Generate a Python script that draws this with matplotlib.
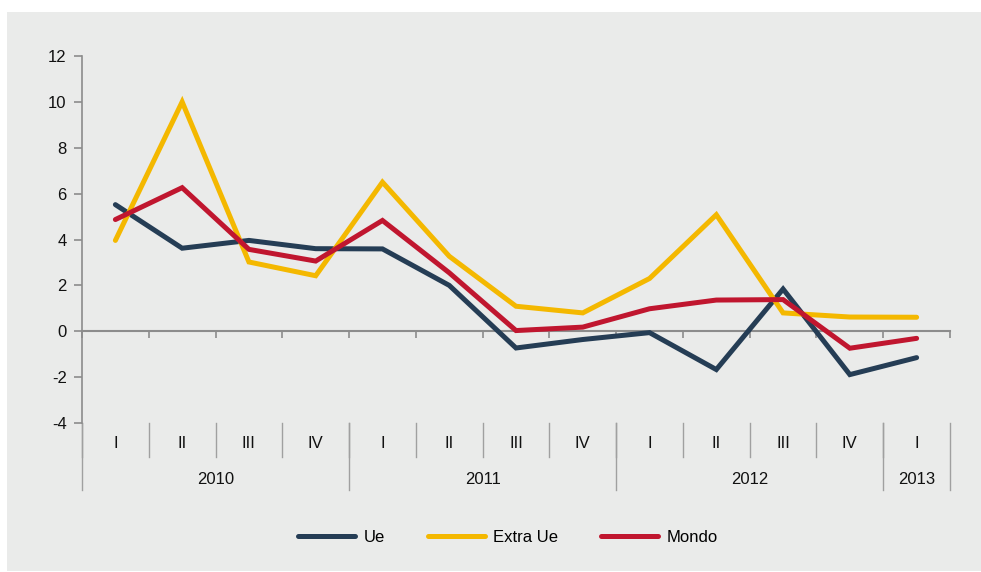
import matplotlib.pyplot as plt
import matplotlib.transforms as mtransforms
from matplotlib.patches import Rectangle
import numpy as np

plt.rcParams["font.family"] = ["Liberation Sans", "DejaVu Sans"]
plt.rcParams["axes.unicode_minus"] = False

quarters = ["I", "II", "III", "IV", "I", "II", "III", "IV", "I", "II", "III", "IV", "I"]
years = ["2010", "2011", "2012", "2013"]
year_len = [4, 4, 4, 1]

ue = [5.52, 3.62, 3.96, 3.6, 3.59, 2.0, -0.73, -0.36, -0.06, -1.67, 1.84, -1.89, -1.15]
extra_ue = [3.96, 10.0, 3.02, 2.42, 6.5, 3.27, 1.09, 0.8, 2.3, 5.08, 0.8, 0.62, 0.61]
mondo = [4.87, 6.26, 3.57, 3.06, 4.83, 2.55, 0.03, 0.18, 0.98, 1.36, 1.38, -0.74, -0.31]

NAVY = "#253d55"
YELLOW = "#f4b800"
RED = "#c0162f"
GREY = "#8c8c8c"
BG = "#eaebea"


def main():
    W, H = 981, 572
    fig = plt.figure(figsize=(W / 100, H / 100), dpi=100)
    fig.patch.set_facecolor("white")
    # grey panel behind the chart
    fig.patches.append(Rectangle((7 / W, 1 / H), 1 - 7 / W, (571 - 12) / H,
                                 transform=fig.transFigure, facecolor=BG,
                                 edgecolor="none", zorder=-5))

    ax = fig.add_axes([82 / W, 1 - 423 / H, (950 - 82) / W, (423 - 56) / H])
    ax.set_facecolor("none")

    x = np.arange(len(quarters))
    lw = 3.6
    ax.plot(x, ue, color=NAVY, lw=lw, solid_capstyle="round", solid_joinstyle="miter", label="Ue", zorder=3)
    ax.plot(x, extra_ue, color=YELLOW, lw=lw, solid_capstyle="round", solid_joinstyle="miter", label="Extra Ue", zorder=3)
    ax.plot(x, mondo, color=RED, lw=lw, solid_capstyle="round", solid_joinstyle="miter", label="Mondo", zorder=4)

    ax.set_xlim(-0.5, len(quarters) - 0.5)
    ax.set_ylim(-4, 12)
    ax.set_yticks(np.arange(-4, 13, 2))

    for s in ["top", "right"]:
        ax.spines[s].set_visible(False)
    ax.spines["left"].set_color(GREY)
    ax.spines["left"].set_linewidth(1.2)
    ax.spines["bottom"].set_position(("data", 0))
    ax.spines["bottom"].set_color(GREY)
    ax.spines["bottom"].set_linewidth(1.5)

    ax.set_xticks(np.arange(-0.5, len(quarters), 1.0))
    ax.set_xticklabels([])
    ax.tick_params(axis="x", direction="out", length=5, color=GREY, width=1.2)
    ax.tick_params(axis="y", direction="out", length=6, color=GREY, width=1.2,
                   labelsize=12, labelcolor="#111111", pad=5)

    trans = mtransforms.blended_transform_factory(ax.transData, ax.transAxes)
    q_bottom = -34 / 367
    y_bottom = -67 / 367

    # quarter labels and separators
    for i, q in enumerate(quarters):
        ax.text(i, -20 / 367, q, transform=trans, ha="center", va="center",
                fontsize=12, color="#111111")
        ax.plot([i - 0.5, i - 0.5], [0, q_bottom], transform=trans, color="#a0a0a0",
                lw=1, clip_on=False)

    # year labels and separators
    start = 0
    for yr, n in zip(years, year_len):
        ax.plot([start - 0.5, start - 0.5], [0, y_bottom], transform=trans,
                color="#a0a0a0", lw=1, clip_on=False)
        ax.text(start - 0.5 + n / 2, -56 / 367, yr, transform=trans, ha="center",
                va="center", fontsize=12, color="#111111")
        start += n
    ax.plot([start - 0.5, start - 0.5], [0, y_bottom], transform=trans,
            color="#a0a0a0", lw=1, clip_on=False)

    fig.legend(loc="center", bbox_to_anchor=(508 / W, 1 - 537 / H), ncol=3,
               frameon=False, fontsize=12, handlelength=3.4, handletextpad=0.5,
               columnspacing=2.6)

    plt.savefig("out.png", dpi=100)


if __name__ == "__main__":
    main()
